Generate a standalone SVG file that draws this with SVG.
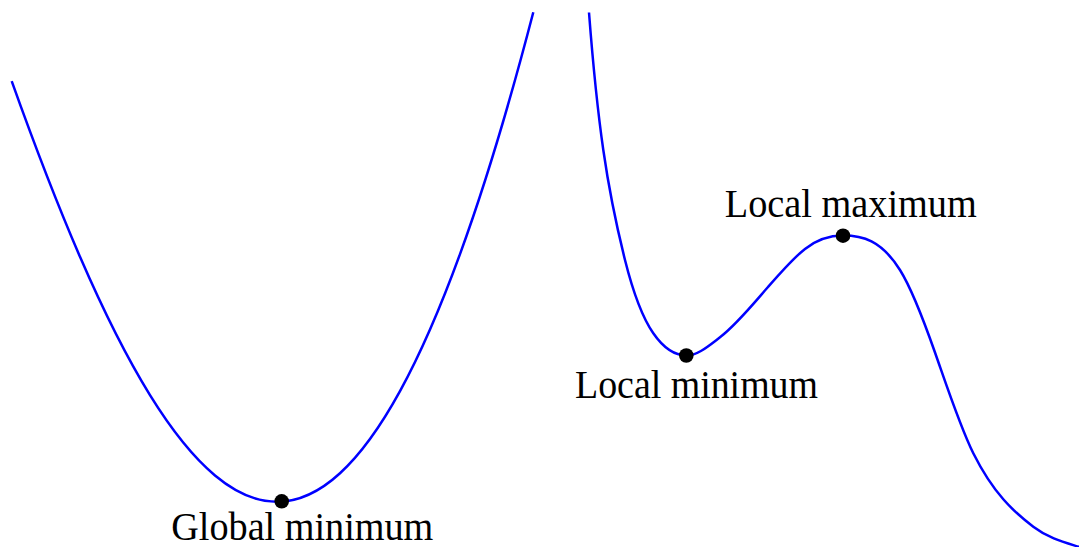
<svg xmlns="http://www.w3.org/2000/svg" width="1079" height="547" viewBox="0 0 1079 547">
<style>
.curve{fill:none;stroke:#0000ff;stroke-width:2.5;stroke-linejoin:round;stroke-linecap:butt}
.dot{fill:#000}
.lbl{font-family:"Liberation Serif","DejaVu Serif",serif;font-size:40px;fill:#000;text-anchor:middle}
</style>
<rect width="1079" height="547" fill="#fff"/>
<g id="curves">
<path id="convex-curve" class="curve" d="M11.7,81.18 C34.47,144.97 57.23,204.28 80,256.83 C103.33,310.68 126.67,357.45 150,395.15 C171.67,430.16 193.33,457.35 215,475.47 C235.67,492.76 256.33,501.8 277,501.8 C298,501.8 319,492.46 340,473.23 C360,454.92 380,427.63 400,391.15 C420,354.67 440,308.98 460,254.1 C484.43,187.06 508.87,106.28 533.3,12.27"/>
<path id="nonconvex-curve" class="curve" d="M589,12.5 C593.77,74.47 598.53,116.87 603.3,150 C610.53,200.27 617.77,231.14 625,260 C634.43,297.64 643.87,319.62 653.3,333.3 C664.37,349.35 675.43,355.5 686.5,355.5 C697.67,355.5 708.83,345.79 720,337.3 C736,325.14 752,305.45 768,287.05 C780.33,272.87 792.67,258.64 805,248.9 C817.67,238.9 830.33,235.5 843,235.5 C862,235.5 881,239.6 900,270 C911.67,288.67 923.33,319.25 935,352.5 C947.77,388.89 960.53,427.77 973.3,453.3 C993.3,493.3 1013.3,511.5 1033.3,526.7 C1048.53,538.28 1063.77,542.13 1080,547.2"/>
</g>
<g id="global-minimum">
<circle class="dot" cx="281.7" cy="501.3" r="7.3"/>
<text class="lbl" x="302.3" y="540" textLength="262" lengthAdjust="spacingAndGlyphs">Global minimum</text>
</g>
<g id="local-minimum">
<circle class="dot" cx="686.3" cy="355.5" r="7.3"/>
<text class="lbl" x="696.5" y="398.3" textLength="243" lengthAdjust="spacingAndGlyphs">Local minimum</text>
</g>
<g id="local-maximum">
<circle class="dot" cx="843" cy="235.7" r="7.3"/>
<text class="lbl" x="850.8" y="217" textLength="252" lengthAdjust="spacingAndGlyphs">Local maximum</text>
</g>
</svg>
